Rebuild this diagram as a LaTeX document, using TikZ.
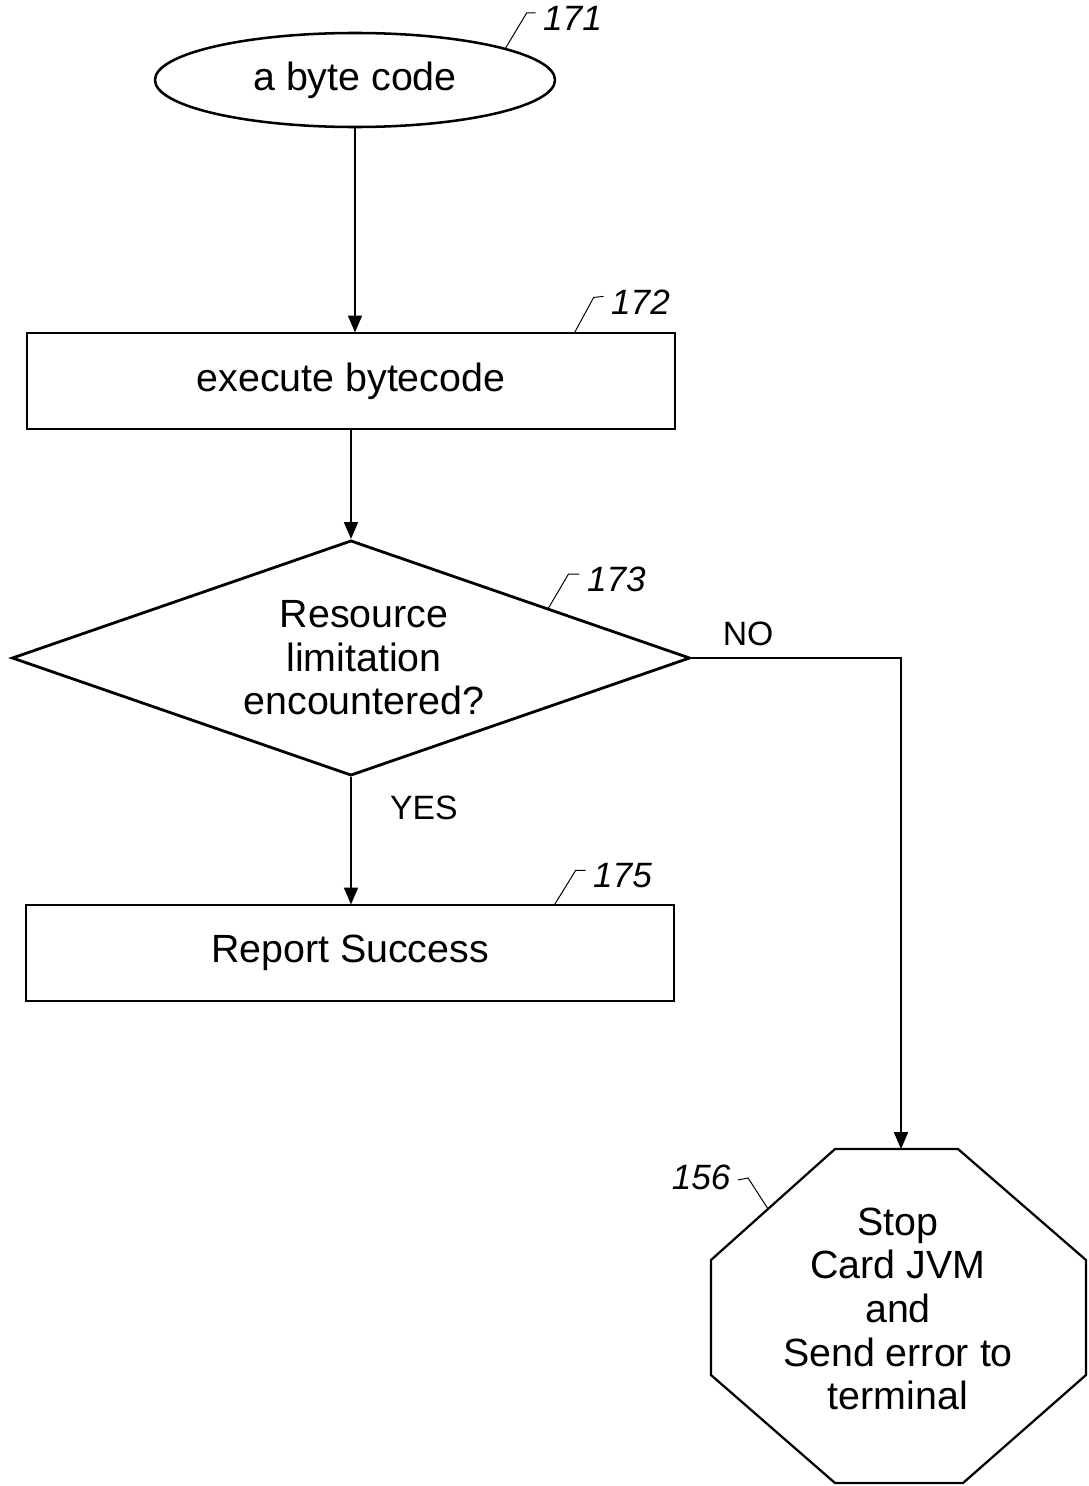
\documentclass[tikz,border=0pt]{standalone}
\usepackage{fontspec}
\setmainfont{Liberation Sans}
\usetikzlibrary{shapes.geometric,arrows.meta,calc}

\begin{document}
\begin{tikzpicture}[x=0.025cm,y=-0.025cm,
    txt/.style={font=\fontsize{28}{31}\selectfont,align=center},
    num/.style={font=\fontsize{25}{29}\selectfont\itshape,inner sep=5pt},
    lab/.style={font=\fontsize{24}{28}\selectfont},
    flow/.style={-{Triangle[length=12pt,width=10pt]},line width=1.1pt},
    leader/.style={line width=0.7pt},
    box/.style={draw,line width=1.4pt,rectangle,inner sep=0pt,minimum width=16.18cm,minimum height=2.38cm,txt}]
    \useasboundingbox (0,0) rectangle (1088,1486);

    \node[draw,ellipse,line width=1.8pt,inner sep=0pt,minimum width=10cm,minimum height=2.35cm,txt] (bytecode) at (355,80) {a byte code};
    \node[box] (execute) at (351,381) {execute bytecode};
    \node[draw,diamond,line width=2pt,inner sep=0pt,aspect=2.9,minimum width=16.95cm,minimum height=5.88cm] (limit) at (351,658) {};
    \node[txt] (limittxt) at (364,658) {Resource\\limitation\\encountered?};
    \node[box] (report) at (350,953) {Report Success};

    \draw[line width=1.6pt]
        (835,1149) coordinate (o1) -- (958,1149) coordinate (o2) -- (1086,1260) coordinate (o3) -- (1086,1375) coordinate (o4)
        -- (963,1483) coordinate (o5) -- (835,1483) coordinate (o6) -- (711,1375) coordinate (o7) -- (711,1260) coordinate (o8) -- cycle;
    \node[txt] (stop) at (898,1309) {Stop\\Card JVM\\and\\Send error to\\terminal};
    \coordinate (stoptop) at (901,1149);

    \draw[flow] (bytecode.south) -- (bytecode.south |- execute.north);
    \draw[flow] (execute.south) -- (execute.south |- limit.north);
    \draw[flow] (limit.south) -- node[lab,pos=0.24,right=24pt] {YES} (limit.south |- report.north);
    \draw[flow] (limit.east) -| node[lab,pos=0.135,above,yshift=5pt] {NO} (stoptop);

    \draw[leader] (bytecode.12) -- ++(21,-35) -- ++(9,0) node[num,right,yshift=-4pt] (n171) {171};
    \draw[leader] ($(execute.north east)+(-101,0)$) -- ++(19,-35) -- ++(10,-1) node[num,right,yshift=-4pt] (n172) {172};
    \draw[leader] ($(limit.north)!0.58!(limit.east)$) -- ++(20,-34) -- ++(11,0) node[num,right,yshift=-4pt] (n173) {173};
    \draw[leader] ($(report.north east)+(-120,0)$) -- ++(21,-34) -- ++(10,0) node[num,right,yshift=-4pt] (n175) {175};
    \draw[leader] ($(o8)!0.46!(o1)$) -- ++(-20,-31) -- ++(-10,2) node[num,left,yshift=2pt] (n156) {156};
\end{tikzpicture}
\end{document}
